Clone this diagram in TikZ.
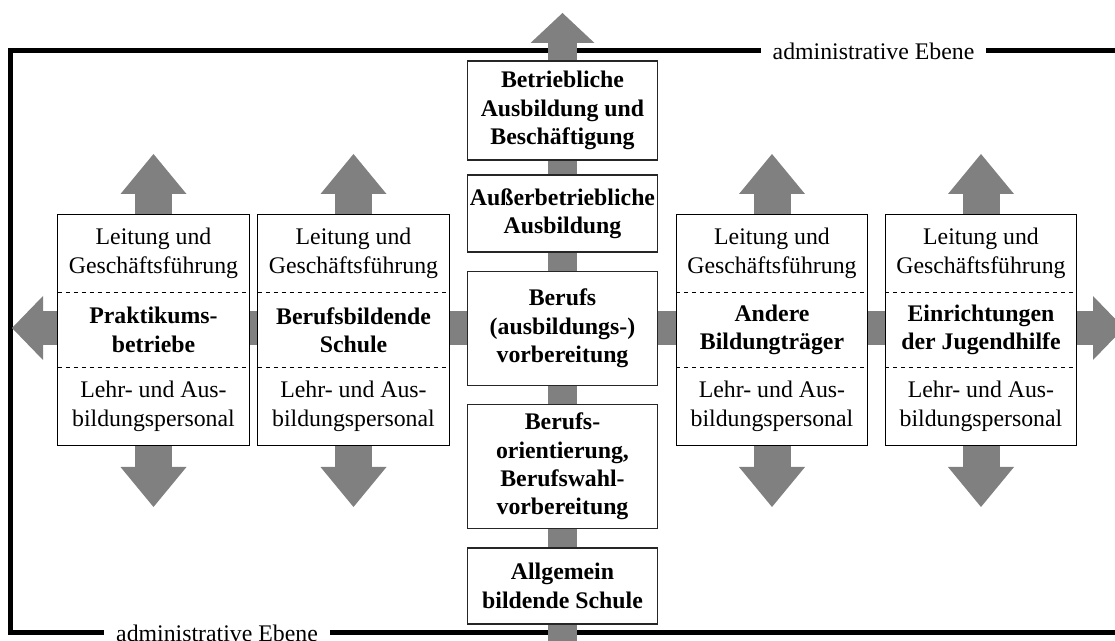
\documentclass[tikz,border=0pt]{standalone}
\usepackage{fontspec}
\setmainfont{Liberation Serif}
\usetikzlibrary{arrows.meta}

\begin{document}
\begin{tikzpicture}
  [x=0.5pt, y=-0.5pt,
   every node/.style={font=\fontsize{11.9}{14.2}\selectfont, align=center, inner sep=1.5pt},
   frame line/.style={line width=2.5pt},
   level label/.style={fill=white, inner xsep=6pt},
   main box/.style={draw=black!85, line width=0.75pt, fill=white, minimum width=95pt, minimum height=#1, inner xsep=1pt, font=\fontsize{11.9}{14.2}\selectfont\bfseries},
   part box/.style={fill=white, minimum width=95.5pt, minimum height=38.5pt},
   name part/.style={part box, font=\fontsize{11.9}{14.2}\selectfont\bfseries},
   thin box/.style={draw=black, line width=0.5pt},
   sep line/.style={draw=black, line width=0.5pt, dash pattern=on 2pt off 2pt},
   cross bar/.style={draw=gray, line width=17pt, {Triangle[width=32pt, length=15.5pt, line width=0pt]}-{Triangle[width=32pt, length=15.5pt, line width=0pt]}},
   column bar/.style={draw=gray, line width=14.5pt, -{Triangle[width=32pt, length=15pt, line width=0pt]}},
   side arrow/.style={draw=gray, line width=18.5pt, -{Triangle[width=33pt, length=20pt, line width=0pt]}}]

  \useasboundingbox (0,0) rectangle (1115,641);

  % frame of the administrative level
  \draw[frame line] (1140,51) -- (10.5,51) -- (10.5,633) -- (1140,633);
  \node[level label] (top level) at (873.5,51) {administrative Ebene};
  \node[level label] (bottom level) at (217,633) {administrative Ebene};

  % grey bars behind the boxes
  \coordinate (bar west) at (12,328);
  \coordinate (bar east) at (1124,328);
  \coordinate (column top) at (562.5,13);
  \coordinate (column bottom) at (562.5,670);
  \draw[cross bar] (bar west) -- (bar east);
  \draw[column bar] (column bottom) -- (column top);

  % middle column
  \node[main box=49.5pt] (betrieb) at (562.5,110.5) {Betriebliche\\Ausbildung und\\Beschäftigung};
  \node[main box=38.5pt] (ausserbetrieb) at (562.5,213.5) {Außerbetriebliche\\Ausbildung};
  \node[main box=57pt] (vorbereitung) at (562.5,328.5) {Berufs\\(ausbildungs-)\\vorbereitung};
  \node[main box=62pt] (orientierung) at (562.5,466.5) {Berufs-\\orientierung,\\Berufswahl-\\vorbereitung};
  \node[main box=38pt] (allgemein) at (562.5,586) {Allgemein\\bildende Schule};

  % Praktikumsbetriebe
  \node[part box] (prak top) at (153.5,253.5) {Leitung und\\Geschäftsführung};
  \node[name part] (prak mid) at (153.5,330) {Praktikums-\\betriebe};
  \node[part box] (prak bot) at (153.5,406.5) {Lehr- und Aus-\\bildungspersonal};
  \coordinate (prak up) at (153.5,154);
  \coordinate (prak down) at (153.5,507);
  \draw[side arrow] (prak top.north) -- (prak up);
  \draw[side arrow] (prak bot.south) -- (prak down);
  \draw[thin box] (prak top.north west) rectangle (prak bot.south east);
  \draw[sep line] (prak top.south west) -- (prak top.south east);
  \draw[sep line] (prak bot.north west) -- (prak bot.north east);

  % Berufsbildende Schule
  \node[part box] (bbs top) at (353.5,253.5) {Leitung und\\Geschäftsführung};
  \node[name part] (bbs mid) at (353.5,330) {Berufsbildende\\Schule};
  \node[part box] (bbs bot) at (353.5,406.5) {Lehr- und Aus-\\bildungspersonal};
  \coordinate (bbs up) at (353.5,154);
  \coordinate (bbs down) at (353.5,507);
  \draw[side arrow] (bbs top.north) -- (bbs up);
  \draw[side arrow] (bbs bot.south) -- (bbs down);
  \draw[thin box] (bbs top.north west) rectangle (bbs bot.south east);
  \draw[sep line] (bbs top.south west) -- (bbs top.south east);
  \draw[sep line] (bbs bot.north west) -- (bbs bot.north east);

  % Andere Bildungtraeger
  \node[part box] (andere top) at (772,253.5) {Leitung und\\Geschäftsführung};
  \node[name part] (andere mid) at (772,330) {Andere\\Bildungträger};
  \node[part box] (andere bot) at (772,406.5) {Lehr- und Aus-\\bildungspersonal};
  \coordinate (andere up) at (772,154);
  \coordinate (andere down) at (772,507);
  \draw[side arrow] (andere top.north) -- (andere up);
  \draw[side arrow] (andere bot.south) -- (andere down);
  \draw[thin box] (andere top.north west) rectangle (andere bot.south east);
  \draw[sep line] (andere top.south west) -- (andere top.south east);
  \draw[sep line] (andere bot.north west) -- (andere bot.north east);

  % Jugendhilfe
  \node[part box] (jugend top) at (981,253.5) {Leitung und\\Geschäftsführung};
  \node[name part] (jugend mid) at (981,330) {Einrichtungen\\der Jugendhilfe};
  \node[part box] (jugend bot) at (981,406.5) {Lehr- und Aus-\\bildungspersonal};
  \coordinate (jugend up) at (981,154);
  \coordinate (jugend down) at (981,507);
  \draw[side arrow] (jugend top.north) -- (jugend up);
  \draw[side arrow] (jugend bot.south) -- (jugend down);
  \draw[thin box] (jugend top.north west) rectangle (jugend bot.south east);
  \draw[sep line] (jugend top.south west) -- (jugend top.south east);
  \draw[sep line] (jugend bot.north west) -- (jugend bot.north east);

\end{tikzpicture}
\end{document}
